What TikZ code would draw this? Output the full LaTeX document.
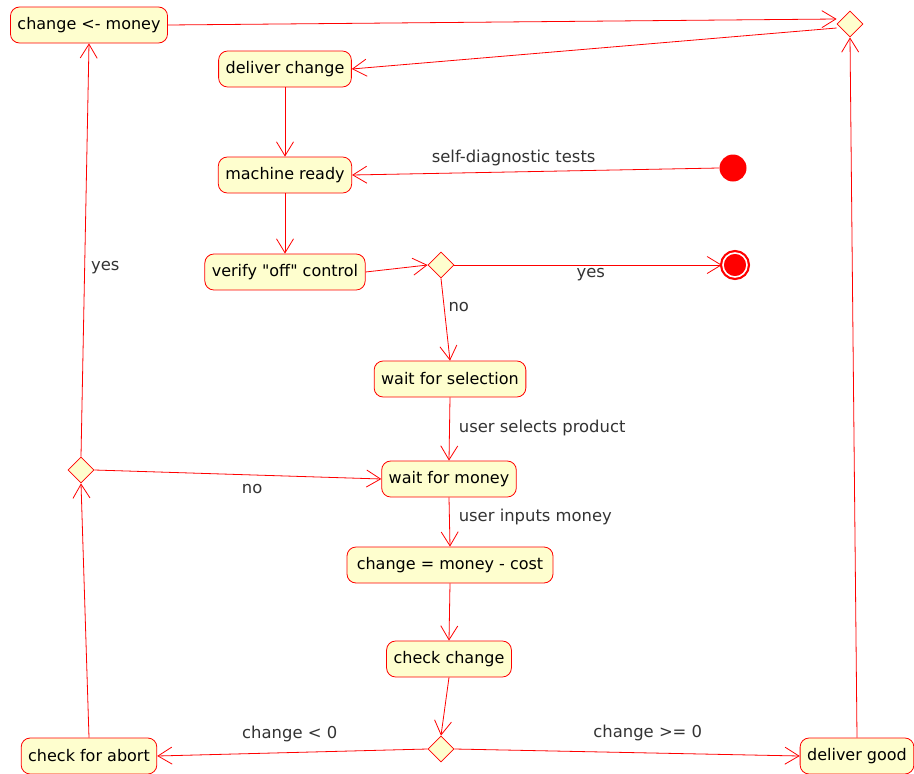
\documentclass[tikz,border=0pt]{standalone}
\usepackage{fontspec}
\newfontfamily\dvsans{DejaVu Sans}
\usetikzlibrary{arrows.meta,shapes.geometric,calc}
\definecolor{actfill}{HTML}{FEFECE}
\definecolor{lblgray}{HTML}{333333}
\begin{document}
\begin{tikzpicture}[x=1pt,y=-1pt,
  every node/.style={font=\dvsans\fontsize{16}{19}\selectfont},
  act/.style={draw=red,fill=actfill,rounded corners=9pt,minimum height=36pt,inner xsep=7pt,inner ysep=0pt,line width=0.8pt,text=black},
  dec/.style={draw=red,fill=actfill,diamond,minimum size=26pt,inner sep=0pt,line width=0.8pt},
  flow/.style={draw=red,line width=0.8pt,-{Straight Barb[length=14pt,width=17pt,line width=0.8pt]}},
  lbl/.style={text=lblgray,inner sep=0pt,font=\dvsans\fontsize{16.4}{19}\selectfont}]
\useasboundingbox (0,0) rectangle (914,774);
% activities
\node[act] (cm) at (89,25) {change <- money};
\node[act] (dc) at (285,69) {deliver change};
\node[act] (mr) at (285,175) {machine ready};
\node[act] (vo) at (285,272) {verify "off" control};
\node[act] (ws) at (450,379) {wait for selection};
\node[act] (wm) at (449,479) {wait for money};
\node[act,minimum width=206pt] (ch) at (450,565) {change = money - cost};
\node[act] (cc) at (449,659) {check change};
\node[act] (ca) at (89,756) {check for abort};
\node[act] (dg) at (857,756) {deliver good};
% decisions
\node[dec] (d1) at (850,24) {};
\node[dec] (d2) at (441,265) {};
\node[dec] (d3) at (81,470) {};
\node[dec] (d4) at (441,749) {};
% start / end
\node[circle,fill=red,minimum size=27pt,inner sep=0pt] (st) at (733,168) {};
\node[circle,draw=red,line width=2.2pt,fill=red,minimum size=24pt,inner sep=0pt,
      double=white,double distance=1.6pt] (en) at (735,265) {};
% flows
\draw[flow] (cm.east) -- ($(d1.west)+(0,-5)$);
\draw[flow] ($(d1.west)+(0,4)$) -- (dc.east);
\draw[flow] (dc.south) -- (mr.north);
\draw[flow] (st.west) -- node[lbl,above=6pt,pos=0.56]{self-diagnostic tests} (mr.east);
\draw[flow] (mr.south) -- (vo.north);
\draw[flow] (vo.east) -- (d2.west);
\draw[flow] (d2.east) -- node[lbl,below=3pt,pos=0.51]{yes} (en.west);
\draw[flow] (d2.south) -- node[lbl,right=4pt,pos=0.35]{no} (ws.north);
\draw[flow] (ws.south) -- node[lbl,right=9pt,pos=0.48]{user selects product} (wm.north);
\draw[flow] (d3.east) -- node[lbl,below=9pt,pos=0.55]{no} (wm.west);
\draw[flow] (wm.south) -- node[lbl,right=9pt,pos=0.4]{user inputs money} (ch.north);
\draw[flow] (ch.south) -- (cc.north);
\draw[flow] (cc.south) -- (d4.north);
\draw[flow] (d4.west) -- node[lbl,above=10pt,pos=0.51]{change < 0} (ca.east);
\draw[flow] (d4.east) -- node[lbl,above=12pt,pos=0.56]{change >= 0} (dg.west);
\draw[flow] (dg.north) -- (d1.south);
\draw[flow] (ca.north) -- (d3.south);
\draw[flow] (d3.north) -- node[lbl,right=6pt,pos=0.458]{yes} (cm.south);
\end{tikzpicture}
\end{document}
